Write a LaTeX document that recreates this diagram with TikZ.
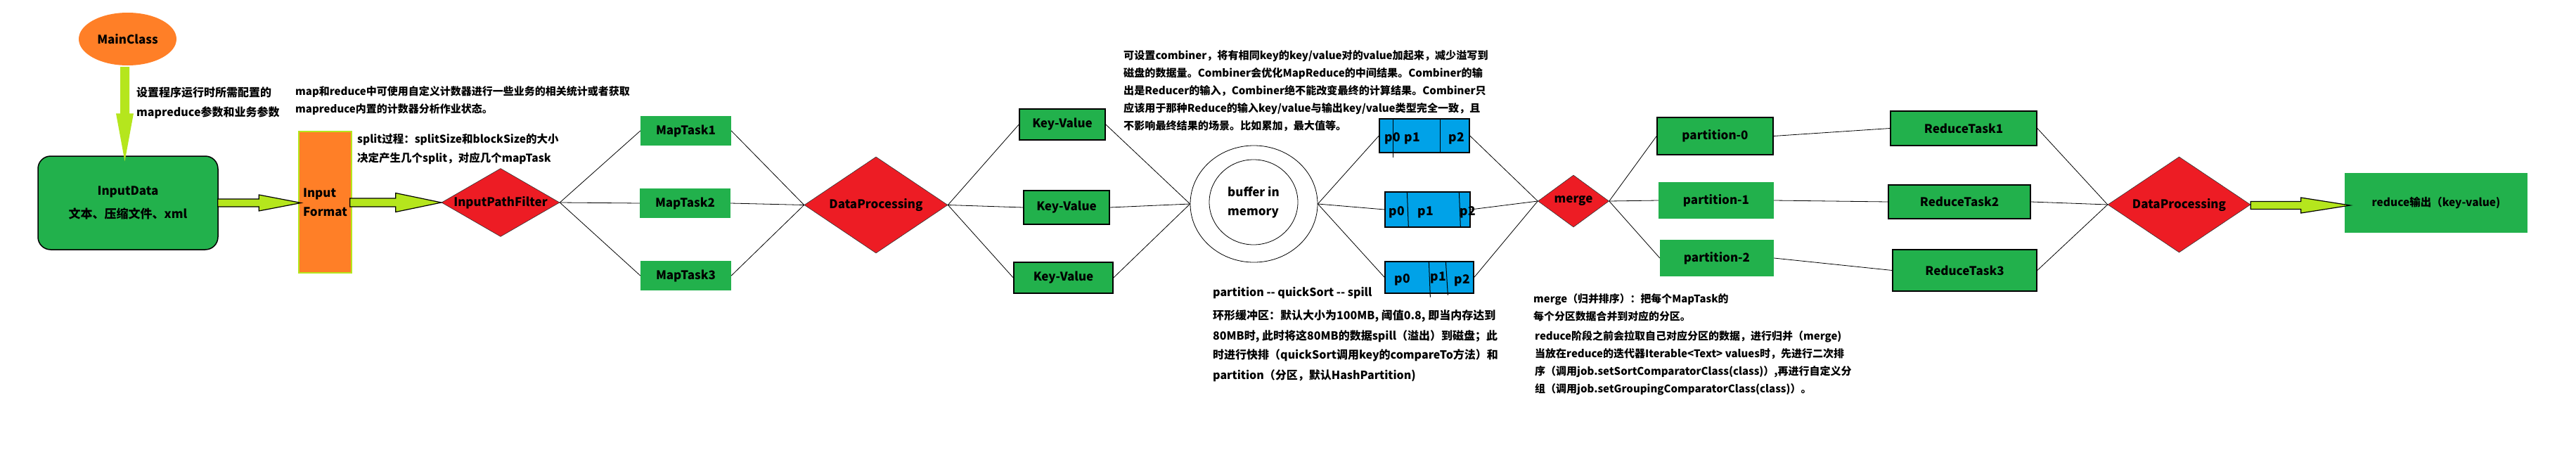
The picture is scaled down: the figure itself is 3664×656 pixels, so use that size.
\documentclass[tikz,border=0pt]{standalone}
\usepackage{fontspec}
\setmainfont{Noto Sans CJK SC}
\usetikzlibrary{shapes.geometric,calc}
\definecolor{pgreen}{HTML}{22B14C}
\definecolor{pred}{HTML}{ED1C24}
\definecolor{porange}{HTML}{FF7F27}
\definecolor{plime}{HTML}{B5E61D}
\definecolor{pblue}{HTML}{00A2E8}
\tikzset{
  lbl/.style={font=\bfseries\fontsize{17}{20}\selectfont, text=black},
  gbox/.style={rectangle, fill=pgreen, inner sep=0pt, lbl},
  gboxb/.style={gbox, draw=black, line width=1.5pt},
  dia/.style={diamond, fill=pred, draw=black!80, line width=0.6pt, inner sep=0pt, lbl},
  bbox/.style={rectangle, fill=pblue, draw=black, line width=1.3pt, inner sep=0pt},
  plbl/.style={inner sep=0pt, lbl, font=\bfseries\fontsize{17.5}{20}\selectfont},
  divider/.style={draw=black, line width=1pt},
  conn/.style={draw=black, line width=0.8pt},
  fat/.style={fill=plime, draw=black, line width=1.2pt},
  ringst/.style={ellipse, draw=black, line width=0.8pt, inner sep=0pt},
  noteA/.style={inner sep=0pt, anchor=base west, font=\bfseries\fontsize{15}{25}\selectfont},
  noteB/.style={inner sep=0pt, anchor=base west, font=\bfseries\fontsize{16}{28}\selectfont},
  noteC/.style={inner sep=0pt, anchor=base west, font=\bfseries\fontsize{15.1}{25}\selectfont},
  noteD/.style={inner sep=0pt, anchor=base west, font=\bfseries\fontsize{14.9}{25}\selectfont}
}
\begin{document}
\begin{tikzpicture}[x=1pt,y=-1pt]
\useasboundingbox (0,0) rectangle (3664,656);
\fill[white] (0,0) rectangle (3664,656);

% ---------- main nodes ----------
\node[ellipse, fill=porange, minimum width=139pt, minimum height=75pt, inner sep=0pt, lbl] (MC) at (181.5,55.5) {MainClass};
\node[gboxb, rounded corners=18pt, minimum width=256pt, minimum height=133pt, align=center] (ID) at (182,288.5) {InputData\\[13pt]文本、压缩文件、xml};
\node[rectangle, fill=porange, draw=plime, line width=1.5pt, minimum width=75pt, minimum height=201pt, inner sep=0pt, lbl, align=left] (IF) at (462.5,287.5) {Input\\[7pt]Format};
\node[dia, aspect=1.73, minimum width=168pt, minimum height=97pt] (IPF) at (712,288) {InputPathFilter};

\node[gbox, minimum width=129pt, minimum height=42pt] (M1) at (975.5,186) {MapTask1};
\node[gbox, minimum width=129pt, minimum height=42pt] (M2) at (974.5,289) {MapTask2};
\node[gbox, minimum width=129pt, minimum height=42pt] (M3) at (975.5,392) {MapTask3};

\node[dia, aspect=1.49, minimum width=204pt, minimum height=137pt] (DP1) at (1246,291.5) {DataProcessing};

\node[gboxb, minimum width=122pt, minimum height=44pt] (KV1) at (1511,177) {Key-Value};
\node[gboxb, minimum width=122pt, minimum height=48pt] (KV2) at (1517,295) {Key-Value};
\node[gboxb, minimum width=141pt, minimum height=44pt] (KV3) at (1512.5,395) {Key-Value};

\node[ringst, minimum width=181pt, minimum height=166pt] (BUF) at (1783.5,290) {};
\node[ringst, minimum width=126pt, minimum height=121pt, lbl, align=left] (BUFIN) at (1783,287.5) {buffer in\\[7pt]memory};

\node[bbox, minimum width=128pt, minimum height=48pt] (B1) at (2026,193) {};
\node[bbox, minimum width=121pt, minimum height=50pt] (B2) at (2030.5,298) {};
\node[bbox, minimum width=126pt, minimum height=45pt] (B3) at (2033,394.5) {};

\node[dia, aspect=1.36, minimum width=101pt, minimum height=74pt] (MG) at (2238,286) {merge};

\node[gboxb, minimum width=165pt, minimum height=53pt] (P0) at (2439.5,193.5) {partition-0};
\node[gbox, minimum width=164pt, minimum height=52pt] (P1) at (2441,285) {partition-1};
\node[gbox, minimum width=162pt, minimum height=52pt] (P2) at (2442,367) {partition-2};

\node[gboxb, minimum width=208pt, minimum height=49pt] (RT1) at (2793,182.5) {ReduceTask1};
\node[gboxb, minimum width=202pt, minimum height=48pt] (RT2) at (2787,287) {ReduceTask2};
\node[gboxb, minimum width=205pt, minimum height=59pt] (RT3) at (2794.5,384.5) {ReduceTask3};

\node[dia, aspect=1.49, minimum width=203pt, minimum height=136pt] (DP2) at (3099.5,291) {DataProcessing};
\node[gbox, minimum width=260pt, minimum height=85pt, font=\bfseries\fontsize{15.5}{20}\selectfont] (OUT) at (3465,288.5) {reduce输出（key-value)};

% ---------- partition boxes: dividers and labels ----------
\draw[divider] ($(B1.north west)+(20,0)$) -- ($(B1.south west)+(20,6)$);
\draw[divider] ($(B1.north west)+(87,0)$) -- ($(B1.south west)+(87,0)$);
\node[plbl] (B1p0) at (1981,197) {p0};
\node[plbl] (B1p1) at (2009,197) {p1};
\node[plbl] (B1p2) at (2072,197) {p2};

\draw[divider] ($(B2.north west)+(32,0)$) -- ($(B2.south west)+(34,0)$);
\draw[divider] ($(B2.north west)+(106,0)$) -- ($(B2.south west)+(108,0)$);
\node[plbl] (B2p0) at (1987,302) {p0};
\node[plbl] (B2p1) at (2028,302) {p1};
\node[plbl] (B2p2) at (2088,302) {p2};

\draw[divider] ($(B3.north west)+(63,0)$) -- ($(B3.south west)+(65,5)$);
\draw[divider] ($(B3.north west)+(87,0)$) -- ($(B3.south west)+(90,2)$);
\node[plbl] (B3p0) at (1995,398) {p0};
\node[plbl] (B3p1) at (2046,395) {p1};
\node[plbl] (B3p2) at (2080,399) {p2};

% ---------- thin connectors ----------
\foreach \t in {M1,M2,M3} \draw[conn] (IPF.east) -- (\t.west);
\foreach \t in {M1,M2,M3} \draw[conn] (\t.east) -- (DP1.west);
\foreach \t in {KV1,KV2,KV3} \draw[conn] (DP1.east) -- (\t.west);
\foreach \t in {KV1,KV2,KV3} \draw[conn] (\t.east) -- (BUF.west);
\foreach \t in {B1,B2,B3} \draw[conn] (BUF.east) -- (\t.west);
\foreach \t in {B1,B2,B3} \draw[conn] (\t.east) -- (MG.west);
\foreach \t in {P0,P1,P2} \draw[conn] (MG.east) -- (\t.west);
\draw[conn] (P0.east) -- (RT1.west);
\draw[conn] (P1.east) -- (RT2.west);
\draw[conn] (P2.east) -- (RT3.west);
\foreach \t in {RT1,RT2,RT3} \draw[conn] (\t.east) -- (DP2.west);

% ---------- fat arrows ----------
\fill[plime] let \p1=(MC.south), \p2=(ID.north) in
  (\x1-10.5pt,\y1-2pt) -- (\x1+2.5pt,\y1-2pt) -- (\x1+2.5pt,\y2+60pt) -- (\x1+8.5pt,\y2+60pt)
  -- (\x1-4pt,\y2-8pt) -- (\x1-16.5pt,\y2+60pt) -- (\x1-10.5pt,\y2+60pt) -- cycle;
\filldraw[fat] let \p1=(ID.east), \p2=(IF.west) in
  (\x1-1pt,\y1+5.5pt) -- (\x2-56pt,\y1+5.5pt) -- (\x2-56pt,\y1+11.5pt) -- (\x2+4pt,\y1)
  -- (\x2-56pt,\y1-11.5pt) -- (\x2-56pt,\y1-5.5pt) -- (\x1-1pt,\y1-5.5pt) -- cycle;
\filldraw[fat] let \p1=(IF.east), \p2=(IPF.west) in
  (\x1-3pt,\y2+6pt) -- (\x2-65pt,\y2+6pt) -- (\x2-65pt,\y2+13.5pt) -- (\x2,\y2)
  -- (\x2-65pt,\y2-13.5pt) -- (\x2-65pt,\y2-6pt) -- (\x1-3pt,\y2-6pt) -- cycle;
\filldraw[fat] let \p1=(DP2.east), \p2=(OUT.west) in
  (\x1,\y1-1pt+5.5pt) -- (\x2-62pt,\y1-1pt+5.5pt) -- (\x2-62pt,\y1-1pt+11pt) -- (\x2+8pt,\y1-1pt)
  -- (\x2-62pt,\y1-1pt-11pt) -- (\x2-62pt,\y1-1pt-5.5pt) -- (\x1,\y1-1pt-5.5pt) -- cycle;

% ---------- notes ----------
\node[noteB] (n1a) at (194,137) {设置程序运行时所需配置的};
\node[noteB] (n1b) at (194,165) {mapreduce参数和业务参数};

\node[noteA] (n2a) at (420,135) {map和reduce中可使用自定义计数器进行一些业务的相关统计或者获取};
\node[noteA] (n2b) at (420,160) {mapreduce内置的计数器分析作业状态。};

\node[noteB, font=\bfseries\fontsize{15.5}{27}\selectfont] (n3a) at (508,203) {split过程：splitSize和blockSize的大小};
\node[noteB, font=\bfseries\fontsize{15.5}{27}\selectfont] (n3b) at (508,230) {决定产生几个split，对应几个mapTask};

\node[noteC] (n4a) at (1598,84) {可设置combiner，将有相同key的key/value对的value加起来，减少溢写到};
\node[noteC] (n4b) at (1598,109) {磁盘的数据量。Combiner会优化MapReduce的中间结果。Combiner的输};
\node[noteC] (n4c) at (1598,134) {出是Reducer的输入，Combiner绝不能改变最终的计算结果。Combiner只};
\node[noteC] (n4d) at (1598,159) {应该用于那种Reduce的输入key/value与输出key/value类型完全一致，且};
\node[noteC] (n4e) at (1598,184) {不影响最终结果的场景。比如累加，最大值等。};

\node[noteB] (n5a) at (1725,421) {partition {-}{-} quickSort {-}{-} spill};
\node[noteB] (n5b) at (1725,454) {环形缓冲区：默认大小为100MB, 阈值0.8, 即当内存达到};
\node[noteB] (n5c) at (1725,483) {80MB时, 此时将这80MB的数据spill（溢出）到磁盘；此};
\node[noteB] (n5d) at (1725,510) {时进行快排（quickSort调用key的compareTo方法）和};
\node[noteB] (n5e) at (1725,539) {partition（分区，默认HashPartition)};

\node[noteD] (n6a) at (2181,430) {merge（归并排序）：把每个MapTask的};
\node[noteD] (n6b) at (2181,455) {每个分区数据合并到对应的分区。};
\node[noteA] (n7a) at (2183,483) {reduce阶段之前会拉取自己对应分区的数据，进行归并（merge)};
\node[noteA] (n7b) at (2183,508) {当放在reduce的迭代器Iterable<Text> values时，先进行二次排};
\node[noteA] (n7c) at (2183,533) {序（调用job.setSortComparatorClass(class)）,再进行自定义分};
\node[noteA] (n7d) at (2183,558) {组（调用job.setGroupingComparatorClass(class)）。};
\end{tikzpicture}
\end{document}
